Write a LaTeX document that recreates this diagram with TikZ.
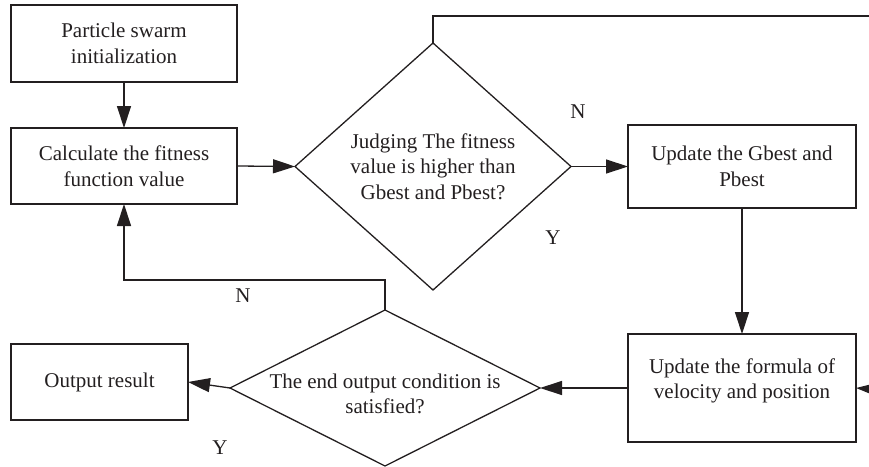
\documentclass[tikz,border=0pt]{standalone}
\usepackage{fontspec}
\setmainfont{Liberation Serif}
\usetikzlibrary{shapes.geometric,arrows.meta}
\definecolor{ink}{HTML}{231F20}
\begin{document}
\begin{tikzpicture}[x=1pt,y=-1pt,
  every node/.style={text=ink,font=\fontsize{21}{25.5}\selectfont},
  box/.style={draw=ink,line width=1.3pt,rectangle,align=center,inner sep=0pt,outer sep=0pt},
  decision/.style={draw=ink,line width=1.3pt,diamond,align=center,inner sep=0pt,outer sep=0pt},
  link/.style={draw=ink,line width=1.3pt},
  arrow/.style={link,-{Triangle[length=22pt,width=14pt]}}]
\useasboundingbox (0,0) rectangle (869,466);
\node[box,minimum width=226pt,minimum height=77pt] (b1) at (124,43.5) {Particle swarm\\initialization};
\node[box,minimum width=226pt,minimum height=76pt] (b2) at (124,166) {Calculate the fitness\\function value};
\node[decision,minimum width=276pt,minimum height=247pt] (d1) at (433,166.5) {Judging The fitness\\value is higher than\\Gbest and Pbest?};
\node[box,minimum width=228pt,minimum height=83pt] (b3) at (742,166.5) {Update the Gbest and\\Pbest};
\node[box,minimum width=228pt,minimum height=108pt] (b4) at (742,388) {};
\node[align=center] (t4) at (742,381) {Update the formula of\\velocity and position};
\node[decision,minimum width=310pt,minimum height=156pt] (d2) at (385,388) {};
\node[align=center] (t2) at (385,394) {The end output condition is\\satisfied?};
\node[box,minimum width=177pt,minimum height=76pt] (b5) at (99.5,382) {Output result};
\node (n1) at (578,112) {N};
\node (y1) at (553,238) {Y};
\node (n2) at (243,296) {N};
\node (y2) at (220,448) {Y};
\coordinate (c1) at (385,280);
\coordinate (t1) at (433,16);
\coordinate (t2r) at (870,16);
\coordinate (r1) at (870,389);
\draw[arrow] (b1.south) -- (b2.north);
\draw[arrow] (b2.east) -- (d1.west);
\draw[arrow] (d1.east) -- (b3.west);
\draw[arrow] (b3.south) -- (b4.north);
\draw[arrow] (b4.west) -- (d2.east);
\draw[arrow] (d2.west) -- (b5.east);
\draw[arrow] (d2.north) -- (c1) -| (b2.south);
\draw[link] (d1.north) -- (t1) -- (t2r);
\draw[arrow] (r1) -- (b4.east);
\end{tikzpicture}
\end{document}
